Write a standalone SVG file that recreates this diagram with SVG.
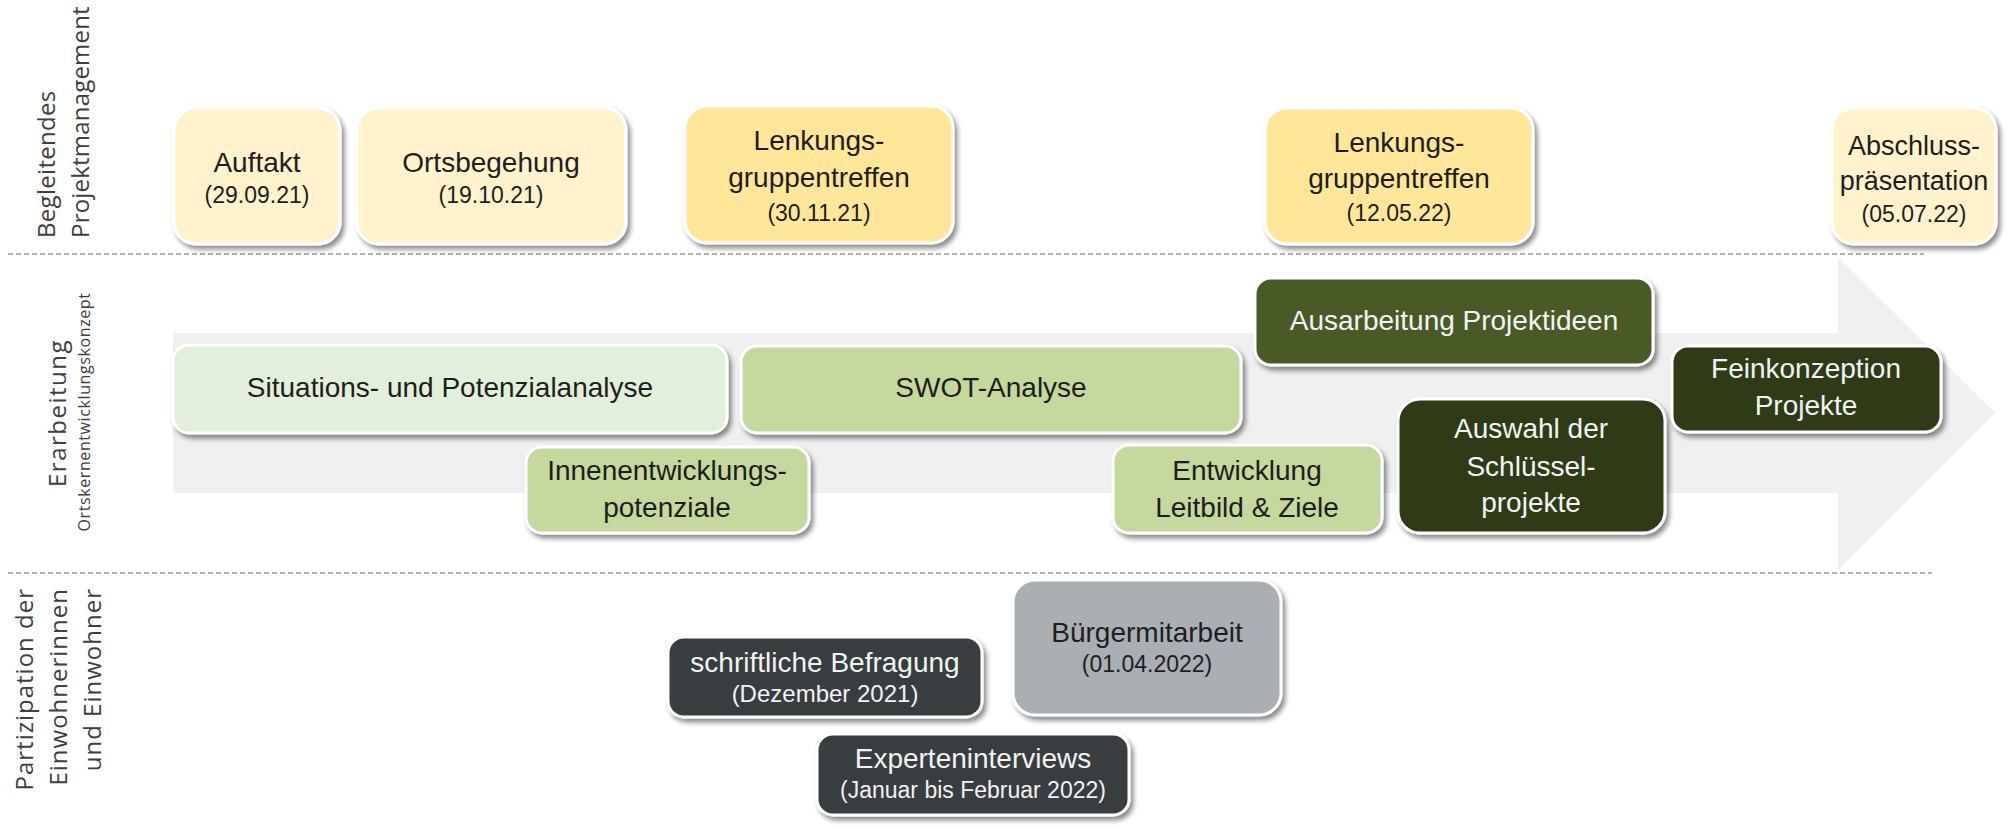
<svg xmlns="http://www.w3.org/2000/svg" width="2009" height="832" viewBox="0 0 2009 832">
<defs>
<filter id="sh" x="-10%" y="-10%" width="125%" height="135%">
<feDropShadow dx="3" dy="4" stdDeviation="2.5" flood-color="#000" flood-opacity="0.45"/>
</filter>
<style>
.box{stroke:#fff;stroke-width:3;filter:url(#sh)}
.cream{fill:#FFF2CC}
.yellow{fill:#FFE699}
.g1{fill:#E2EFDA}
.g2{fill:#C5D89D}
.g3{fill:#4A5A25}
.g4{fill:#2F3A17}
.dk{fill:#373D3F}
.gr{fill:#A9AFB2}
.t{font-family:"Liberation Sans",Arial,sans-serif;font-size:28px;text-anchor:middle;fill:#1E1E1E}
.s{font-size:23px}
.w{fill:#F2F2F2}
.lab{font-family:"Open Sans","Noto Sans",sans-serif;font-size:24px;fill:#404040}
.dash{stroke:#9A9A9A;stroke-width:1.5;stroke-dasharray:5 3;fill:none}
</style>
</defs>
<rect width="2009" height="832" fill="#fff"/>

<g id="lane-labels">
<text class="lab" transform="translate(55,238) rotate(-90)" style="letter-spacing:0.3px">Begleitendes</text>
<text class="lab" transform="translate(89,238) rotate(-90)" style="letter-spacing:0.2px">Projektmanagement</text>
<text class="lab" transform="translate(66,413) rotate(-90)" text-anchor="middle" style="letter-spacing:1.5px">Erarbeitung</text>
<text class="lab" transform="translate(90,412) rotate(-90)" text-anchor="middle" style="font-size:16px;letter-spacing:0.6px">Ortskernentwicklungskonzept</text>
<text class="lab" transform="translate(33,588) rotate(-90)" text-anchor="end" style="letter-spacing:1px">Partizipation der</text>
<text class="lab" transform="translate(67,588) rotate(-90)" text-anchor="end" style="letter-spacing:1px">Einwohnerinnen</text>
<text class="lab" transform="translate(101,588) rotate(-90)" text-anchor="end" style="letter-spacing:1px">und Einwohner</text>
</g>

<g id="separators">
<line class="dash" x1="8" y1="254" x2="1924" y2="254"/>
<line class="dash" x1="8" y1="573" x2="1932" y2="573"/>
</g>

<g id="timeline-arrow">
<polygon points="173,333 1838,333 1838,257 1995,413 1838,570 1838,493 173,493" fill="#F0F0F0"/>
</g>

<g id="connectors"></g>

<g id="auftakt">
<rect class="box cream" x="174" y="108" width="166" height="136" rx="22"/>
<text class="t" x="257" y="172">Auftakt</text>
<text class="t s" x="257" y="203">(29.09.21)</text>
</g>
<g id="ortsbegehung">
<rect class="box cream" x="357" y="108" width="269" height="136" rx="22"/>
<text class="t" x="491" y="172">Ortsbegehung</text>
<text class="t s" x="491" y="203">(19.10.21)</text>
</g>
<g id="lenkung1">
<rect class="box yellow" x="685" y="106" width="268" height="137" rx="22"/>
<text class="t" x="819" y="150">Lenkungs-</text>
<text class="t" x="819" y="187">gruppentreffen</text>
<text class="t s" x="819" y="221">(30.11.21)</text>
</g>
<g id="lenkung2">
<rect class="box yellow" x="1265" y="108" width="268" height="136" rx="22"/>
<text class="t" x="1399" y="152">Lenkungs-</text>
<text class="t" x="1399" y="188">gruppentreffen</text>
<text class="t s" x="1399" y="221">(12.05.22)</text>
</g>
<g id="abschluss">
<rect class="box cream" x="1832" y="108" width="164" height="136" rx="22"/>
<text class="t" x="1914" y="155" style="font-size:27px">Abschluss-</text>
<text class="t" x="1914" y="190" style="font-size:27px">präsentation</text>
<text class="t s" x="1914" y="222">(05.07.22)</text>
</g>

<g id="situationsanalyse">
<rect class="box g1" x="173" y="345" width="554" height="88" rx="16"/>
<text class="t" x="450" y="397">Situations- und Potenzialanalyse</text>
</g>
<g id="swot">
<rect class="box g2" x="741" y="346" width="500" height="87" rx="16"/>
<text class="t" x="991" y="397">SWOT-Analyse</text>
</g>
<g id="innenentwicklung">
<rect class="box g2" x="526" y="447" width="283" height="86" rx="16"/>
<text class="t" x="667" y="480">Innenentwicklungs-</text>
<text class="t" x="667" y="517">potenziale</text>
</g>
<g id="leitbild">
<rect class="box g2" x="1113" y="445" width="269" height="88" rx="16"/>
<text class="t" x="1247" y="480">Entwicklung</text>
<text class="t" x="1247" y="517">Leitbild &amp; Ziele</text>
</g>
<g id="projektideen">
<rect class="box g3" x="1255" y="278" width="398" height="87" rx="16"/>
<text class="t w" x="1454" y="330">Ausarbeitung Projektideen</text>
</g>
<g id="schluesselprojekte">
<rect class="box g4" x="1398" y="399" width="267" height="134" rx="22"/>
<text class="t w" x="1531" y="438">Auswahl der</text>
<text class="t w" x="1531" y="476">Schlüssel-</text>
<text class="t w" x="1531" y="512">projekte</text>
</g>
<g id="feinkonzeption">
<rect class="box g4" x="1672" y="346" width="269" height="86" rx="16"/>
<text class="t w" x="1806" y="378">Feinkonzeption</text>
<text class="t w" x="1806" y="415">Projekte</text>
</g>

<g id="befragung">
<rect class="box dk" x="668" y="637" width="314" height="80" rx="16"/>
<text class="t w" x="825" y="672">schriftliche Befragung</text>
<text class="t w s" x="825" y="702" style="font-size:24px">(Dezember 2021)</text>
</g>
<g id="buergermitarbeit">
<rect class="box gr" x="1013" y="580" width="268" height="135" rx="22"/>
<text class="t" x="1147" y="642">Bürgermitarbeit</text>
<text class="t s" x="1147" y="672">(01.04.2022)</text>
</g>
<g id="experteninterviews">
<rect class="box dk" x="817" y="734" width="312" height="81" rx="16"/>
<text class="t w" x="973" y="768">Experteninterviews</text>
<text class="t w s" x="973" y="798">(Januar bis Februar 2022)</text>
</g>
</svg>
